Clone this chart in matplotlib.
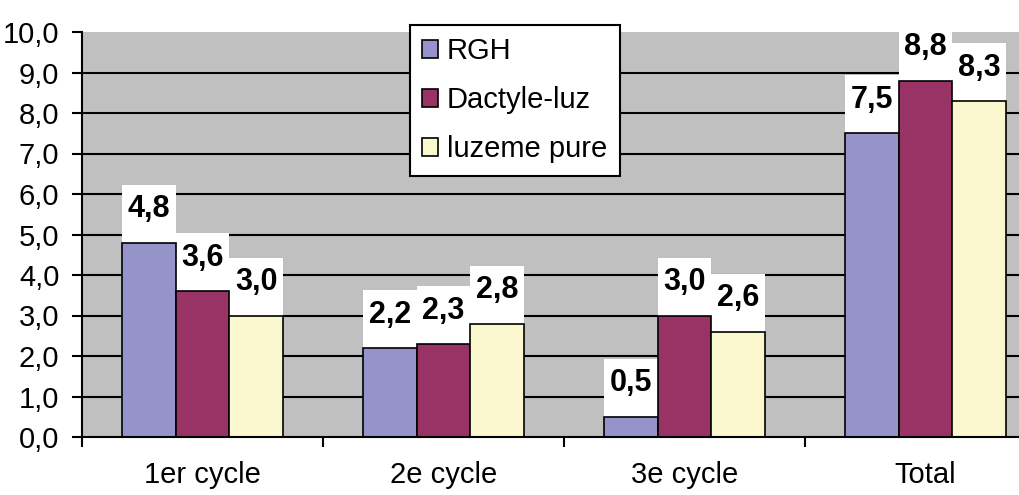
import numpy as np
import matplotlib
matplotlib.use('Agg')
import matplotlib.pyplot as plt
from matplotlib.ticker import FuncFormatter

# --------------------------- DATA ---------------------------
categories = ['1er cycle', '2e cycle', '3e cycle', 'Total']
series_names = ['RGH', 'Dactyle-luz', 'luzeme pure']
rgh = [4.8, 2.2, 0.5, 7.5]
dactyle_luz = [3.6, 2.3, 3.0, 8.8]
luzeme_pure = [3.0, 2.8, 2.6, 8.3]
y_ticks = np.arange(0, 11, 1)

# --------------------------- STYLE ---------------------------
colors = ['#9593CA', '#993366', '#FBF8CF']
bar_w = 1 / 4.5      # Excel style gap width of 150 %
box_h = 1.43         # height of the white label boxes (data units)


def fr_fmt(v, pos=None):
    # Decimal comma, one digit
    return f'{v:.1f}'.replace('.', ',')


plt.rcParams['font.family'] = ['Liberation Sans', 'DejaVu Sans']

fig = plt.figure(figsize=(10.2, 4.95), dpi=100)
ax = fig.add_axes([82 / 1020, 58 / 495, 964 / 1020, 405 / 495])
ax.set_facecolor('#C0C0C0')

x = np.arange(len(categories))
ax.hlines(y_ticks[1:-1], -0.5, 3.5, colors='black', linewidth=1.5, zorder=1)

for i, (name, vals) in enumerate(zip(series_names, [rgh, dactyle_luz, luzeme_pure])):
    pos = x + (i - 1) * bar_w
    ax.bar(pos, vals, bar_w, color=colors[i], edgecolor='black', linewidth=1.2,
           label=name, zorder=3)
    # white boxes behind the value labels
    ax.bar(pos, [box_h] * len(vals), bar_w, bottom=vals, color='white',
           linewidth=0, zorder=2.5, clip_on=False)
    for p, v in zip(pos, vals):
        ax.annotate(fr_fmt(v), (p, v), xytext=(0, 24), textcoords='offset points',
                    ha='center', va='center', fontsize=22, fontweight='bold', zorder=4)

ax.set_xlim(-0.5, 3.5)
ax.set_ylim(0, 10)
ax.set_yticks(y_ticks)
ax.yaxis.set_major_formatter(FuncFormatter(fr_fmt))
ax.tick_params(axis='y', length=7.2, width=1.5, pad=9, labelsize=21, direction='out')

ax.set_xticks(x)
ax.set_xticklabels(categories)
ax.set_xticks(np.arange(-0.5, 4, 1), minor=True)
ax.tick_params(axis='x', which='major', length=0, pad=17, labelsize=21)
ax.tick_params(axis='x', which='minor', length=7.5, width=1.5, direction='out')

for s in ['top', 'right']:
    ax.spines[s].set_visible(False)
for s in ['left', 'bottom']:
    ax.spines[s].set_color('black')
    ax.spines[s].set_linewidth(1.5)
    ax.spines[s].set_zorder(5)

leg = ax.legend(loc='upper left', bbox_to_anchor=(410 / 1020, 470 / 495),
                bbox_transform=fig.transFigure, fancybox=False, edgecolor='black',
                facecolor='white', framealpha=1, fontsize=21, handlelength=0.55,
                handleheight=0.55, handletextpad=0.3, labelspacing=0.72,
                borderpad=0.42, borderaxespad=0)
leg.get_frame().set_linewidth(1.5)
leg.set_zorder(6)

fig.savefig('out.png', dpi=100)
